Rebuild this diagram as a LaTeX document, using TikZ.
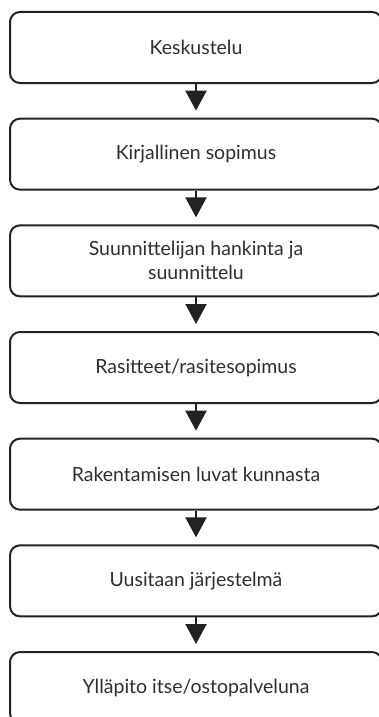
\documentclass[tikz,border=0pt]{standalone}
\usepackage{fontspec}
\setmainfont{Lato}
\usepackage{xcolor}
\usetikzlibrary{%
	arrows.meta,%
	positioning
}
\definecolor{boxline}{HTML}{222222}
\definecolor{boxtext}{HTML}{2E2E2E}
\tikzset{
	stepbox/.style={draw=boxline,line width=2pt,rounded corners=10pt,
		minimum width=372pt,minimum height=71pt,align=center,
		text=boxtext,font=\fontsize{19.5}{24}\selectfont,inner sep=0pt},
	flow/.style={draw=boxline,line width=2pt,shorten >=7pt,
		-{Triangle[length=20pt,width=21pt]}}
}

\begin{document}
\begin{tikzpicture}[x=1pt,y=-1pt]
	\useasboundingbox (0,0) rectangle (378,717);
	\foreach \T [count=\N] in {Keskustelu,Kirjallinen sopimus,{Suunnittelijan hankinta ja\\suunnittelu},Rasitteet/rasitesopimus,Rakentamisen luvat kunnasta,Uusitaan järjestelmä,Ylläpito itse/ostopalveluna}
	{\node[stepbox] (b-\N) at (196,{47.5+106.67*(\N-1)}) {\T};}
	\foreach \N [count=\M from 2] in {1,...,6}
	{\draw[flow] (b-\N.south) -- (b-\M.north);}
\end{tikzpicture}
\end{document}
